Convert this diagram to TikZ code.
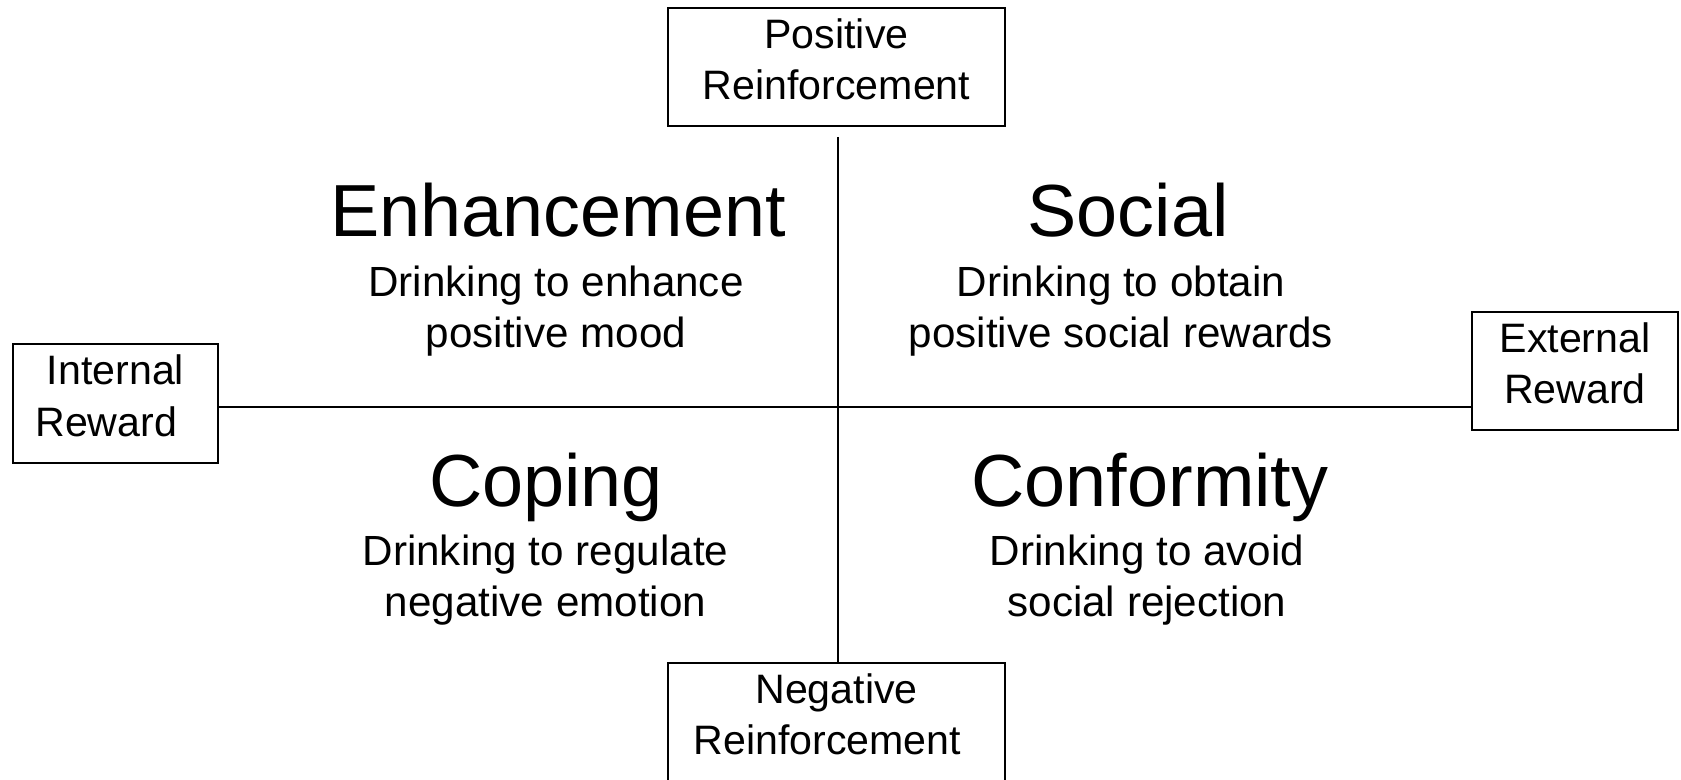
\documentclass[tikz,border=0pt]{standalone}
\usepackage{fontspec}
\setmainfont{Liberation Sans}
\newcommand{\polefont}{\fontsize{23.4}{29.3}\selectfont}
\newcommand{\motivefont}{\fontsize{42}{48}\selectfont}
\newcommand{\reasonfont}{\fontsize{24}{29.3}\selectfont}

\begin{document}
\begin{tikzpicture}[
    pole/.style={draw, line width=1.3pt, align=center, inner sep=0pt, font=\polefont},
    motive/.style={anchor=base, font=\motivefont},
    reason/.style={anchor=base, align=center, font=\reasonfont}]
    \useasboundingbox (0,0) rectangle (33.62,15.58);
    % the four poles
    \node[pole, minimum width=6.74cm, minimum height=2.36cm] (pos) at (16.73,14.24) {Positive\\Reinforcement\strut};
    \node[pole, minimum width=6.74cm, minimum height=2.36cm] (neg) at (16.73,1.14) {Negative\\Reinforcement\hspace*{10.5pt}\strut};
    \node[pole, minimum width=4.10cm, minimum height=2.38cm] (int) at (2.31,7.51) {Internal\\Reward\hspace*{10.5pt}\strut};
    \node[pole, minimum width=4.12cm, minimum height=2.36cm] (ext) at (31.50,8.16) {External\\Reward\strut};
    % axes
    \coordinate (mid) at (16.76,7.44);
    \coordinate (vtop) at (16.76,12.84);
    \draw[line width=1.3pt] (vtop) -- (neg.north -| mid);
    \draw[line width=1.3pt] (int.east |- mid) -- (ext.west |- mid);
    % quadrants (reason nodes sit on the baseline of their last line)
    \node[motive] (enh) at (11.16,10.84) {Enhancement};
    \node[reason] (enhtxt) at (11.12,8.62) {Drinking to enhance\\positive mood};
    \node[motive] (soc) at (22.56,10.84) {Social};
    \node[reason] (soctxt) at (22.42,8.62) {Drinking to obtain\\positive social rewards};
    \node[motive] (cop) at (10.92,5.44) {Coping};
    \node[reason] (coptxt) at (10.91,3.24) {Drinking to regulate\\negative emotion};
    \node[motive] (con) at (23.00,5.44) {Conformity};
    \node[reason] (contxt) at (22.94,3.24) {Drinking to avoid\\social rejection};
\end{tikzpicture}
\end{document}
